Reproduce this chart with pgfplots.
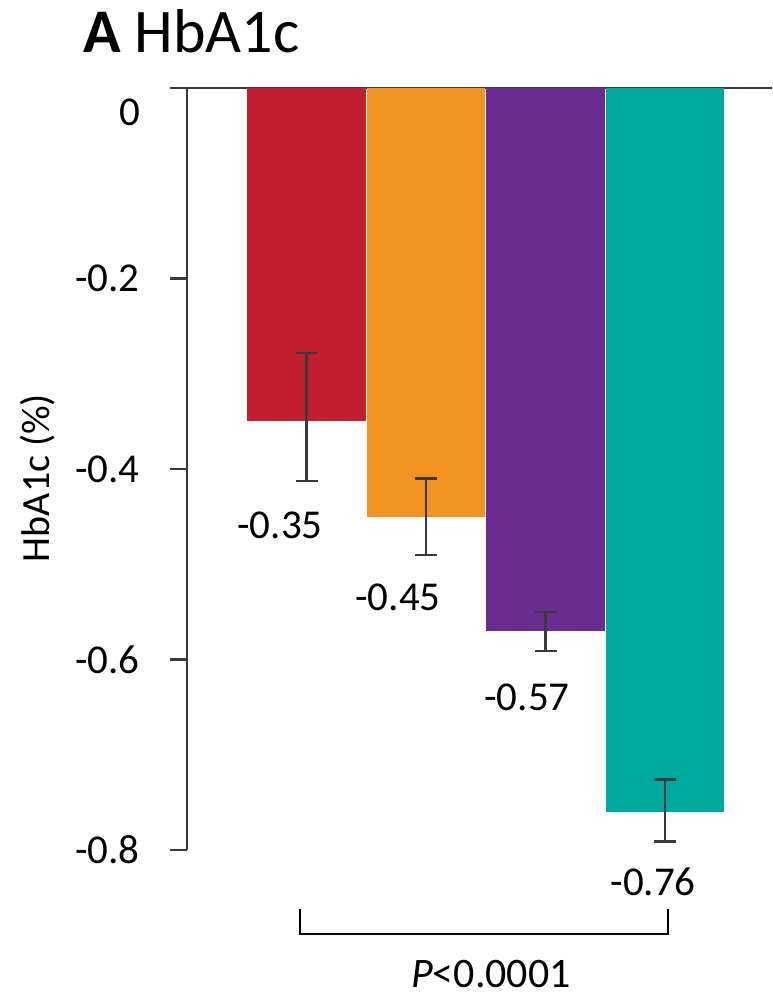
\documentclass[border=0pt]{standalone}
\usepackage{pgfplots}
\pgfplotsset{compat=1.18}
\usepackage{fontspec}
\setmainfont{Carlito}
\definecolor{cred}{HTML}{C11F2F}
\definecolor{corange}{HTML}{F39322}
\definecolor{cpurple}{HTML}{6B2C91}
\definecolor{cteal}{HTML}{00A99D}
\definecolor{axgray}{HTML}{3A3A3A}
\begin{document}
\begin{tikzpicture}
\begin{axis}[
  at={(187pt,147pt)}, anchor=south west,
  scale only axis, width=585pt, height=762pt,
  xmin=0, xmax=4.895, ymin=-0.8, ymax=0,
  axis x line=none, axis y line=left,
  y axis line style={-, line width=2.5pt, color=axgray},
  ytick={0,-0.2,-0.4,-0.6,-0.8},
  yticklabels={,-0.2,-0.4,-0.6,-0.8},
  tick align=outside, major tick length=17pt,
  tick style={line width=2.5pt, color=axgray},
  yticklabel style={font=\fontsize{41}{41}\selectfont, inner sep=0pt, xshift=-30pt},
  clip=false,
]
\draw[line width=2.5pt, color=axgray] ([xshift=-17pt]axis cs:0,0) -- (axis cs:4.895,0);
\addplot[ybar, bar width=0.99, fill=cred, draw=none,
  error bars/.cd, y dir=both, y explicit,
  error bar style={line width=2.2pt, color=axgray},
  error mark options={rotate=90, mark size=11pt, line width=2.2pt, color=axgray}]
  coordinates {(1,-0.35) += (0,0.072) -= (0,0.063)};
\addplot[ybar, bar width=0.99, fill=corange, draw=none,
  error bars/.cd, y dir=both, y explicit,
  error bar style={line width=2.2pt, color=axgray},
  error mark options={rotate=90, mark size=11pt, line width=2.2pt, color=axgray}]
  coordinates {(2,-0.45) += (0,0.04) -= (0,0.04)};
\addplot[ybar, bar width=0.99, fill=cpurple, draw=none,
  error bars/.cd, y dir=both, y explicit,
  error bar style={line width=2.2pt, color=axgray},
  error mark options={rotate=90, mark size=11pt, line width=2.2pt, color=axgray}]
  coordinates {(3,-0.57) += (0,0.02) -= (0,0.021)};
\addplot[ybar, bar width=0.99, fill=cteal, draw=none,
  error bars/.cd, y dir=both, y explicit,
  error bar style={line width=2.2pt, color=axgray},
  error mark options={rotate=90, mark size=11pt, line width=2.2pt, color=axgray}]
  coordinates {(4,-0.76) += (0,0.034) -= (0,0.031)};
\node[font=\fontsize{41}{41}\selectfont, inner sep=0pt] at (axis cs:0.778,-0.4588) {-0.35};
\node[font=\fontsize{41}{41}\selectfont, inner sep=0pt] at (axis cs:1.766,-0.5344) {-0.45};
\node[font=\fontsize{41}{41}\selectfont, inner sep=0pt] at (axis cs:2.845,-0.6394) {-0.57};
\node[font=\fontsize{41}{41}\selectfont, inner sep=0pt] at (axis cs:3.900,-0.8336) {-0.76};
\draw[line width=2pt, color=black] (axis cs:0.946,-0.862) -- (axis cs:0.946,-0.888) -- (axis cs:4.025,-0.888) -- (axis cs:4.025,-0.862);
\node[font=\fontsize{42}{42}\selectfont, inner sep=0pt] at (axis cs:2.544,-0.9302) {\textit{P}<0.0001};
\end{axis}
\node[anchor=east, inner sep=0pt, font=\fontsize{41}{41}\selectfont] at (140pt,884.5pt) {0};
\node[anchor=base west, inner sep=0pt, font=\fontsize{62}{62}\selectfont] at (83pt,944pt) {\textbf{A} HbA1c};
\node[rotate=90, inner sep=0pt, font=\fontsize{40}{40}\selectfont] at (38pt,519pt) {HbA1c (\%)};
\pgfresetboundingbox
\path[use as bounding box] (0,0) rectangle (772pt,997pt);
\end{tikzpicture}
\end{document}
